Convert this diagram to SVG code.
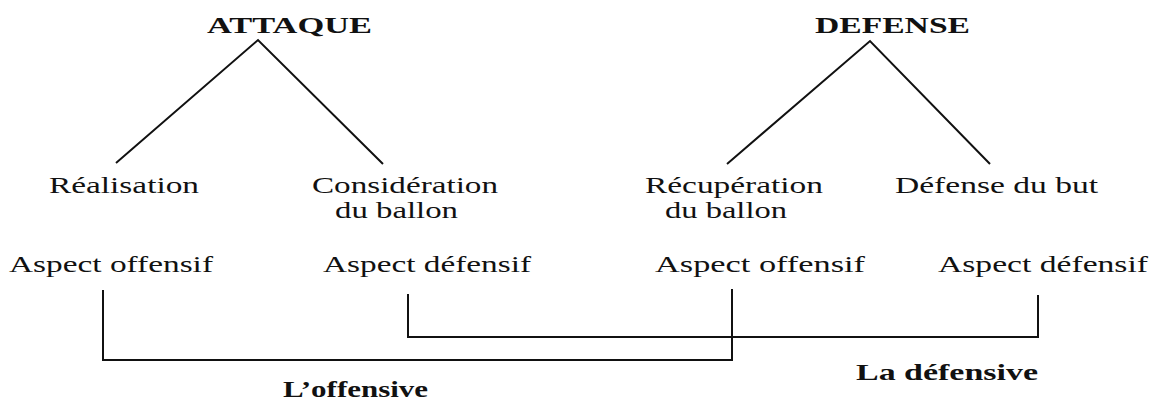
<svg xmlns="http://www.w3.org/2000/svg" width="1153" height="408" viewBox="0 0 1153 408">
<style>
text{font-family:"Liberation Serif","Times New Roman",serif;font-size:24px;fill:#111}
.b{font-weight:bold}
.ln{stroke:#111;stroke-width:2;fill:none;stroke-linejoin:miter}
</style>
<rect width="1153" height="408" fill="#fff"/>
<g id="attaque"><text class="b" x="207" y="33" textLength="165" lengthAdjust="spacingAndGlyphs">ATTAQUE</text></g>
<g id="defense"><text class="b" x="815" y="33" textLength="155" lengthAdjust="spacingAndGlyphs">DEFENSE</text></g>
<g id="realisation"><text x="49" y="193" textLength="150" lengthAdjust="spacingAndGlyphs">Réalisation</text></g>
<g id="consideration"><text x="312" y="193" textLength="186" lengthAdjust="spacingAndGlyphs">Considération</text><text x="335" y="218" textLength="123" lengthAdjust="spacingAndGlyphs">du ballon</text></g>
<g id="recuperation"><text x="645" y="193" textLength="178" lengthAdjust="spacingAndGlyphs">Récupération</text><text x="665" y="218" textLength="122" lengthAdjust="spacingAndGlyphs">du ballon</text></g>
<g id="defense-but"><text x="895" y="193" textLength="203" lengthAdjust="spacingAndGlyphs">Défense du but</text></g>
<g id="aspect1"><text x="9" y="272" textLength="204" lengthAdjust="spacingAndGlyphs">Aspect offensif</text></g>
<g id="aspect2"><text x="323" y="272" textLength="208" lengthAdjust="spacingAndGlyphs">Aspect défensif</text></g>
<g id="aspect3"><text x="655" y="272" textLength="210" lengthAdjust="spacingAndGlyphs">Aspect offensif</text></g>
<g id="aspect4"><text x="938" y="272" textLength="210" lengthAdjust="spacingAndGlyphs">Aspect défensif</text></g>
<g id="offensive"><text class="b" x="283" y="397" textLength="145" lengthAdjust="spacingAndGlyphs">L’offensive</text></g>
<g id="defensive"><text class="b" x="856" y="380" textLength="182" lengthAdjust="spacingAndGlyphs">La défensive</text></g>
<g id="connectors">
<polyline class="ln" points="116,163 258,40 383,164"/>
<polyline class="ln" points="727,164 870,41 990,164"/>
<polyline class="ln" points="103,290 103,360 732,360 732,289"/>
<polyline class="ln" points="408,294 408,337 1038,337 1038,295"/>
</g>
</svg>
